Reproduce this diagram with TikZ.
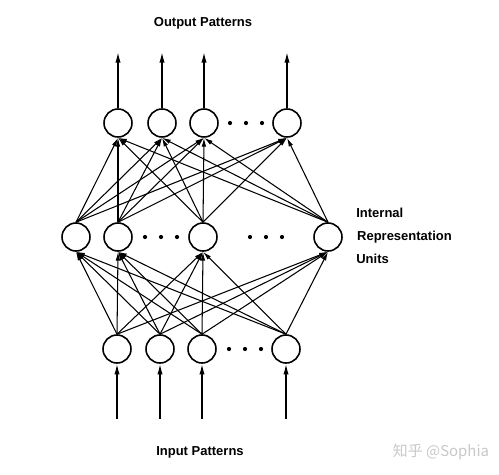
\documentclass[tikz,border=0pt]{standalone}
\usepackage{fontspec}
\setmainfont{Liberation Sans}
\newfontfamily\cjk{Noto Sans CJK SC}
\usepackage{tikz}
\usetikzlibrary{arrows.meta,positioning}
\definecolor{markgray}{RGB}{200,200,200}
\tikzset{
  unit/.style={circle, draw, line width=0.9pt, minimum size=0.56cm, inner sep=0pt},
  lbl/.style={font=\bfseries\fontsize{7.4}{9}\selectfont, inner sep=0pt},
  wire/.style={-{Latex[length=5pt,width=2.6pt]}, line width=0.6pt},
  iowire/.style={-{Latex[length=6pt,width=3pt]}, line width=0.8pt},
}
\newcommand{\threedots}[2]{%
  \foreach \dx in {0,16,32} \fill (#1+\dx,#2) circle (1.2pt);}

\begin{document}
\begin{tikzpicture}[x=0.02cm, y=-0.02cm]
    \useasboundingbox (0,0) rectangle (499,474);
    % output units
    \node[unit] (o1) at (118,123) {};
    \node[unit] (o2) at (162,123) {};
    \node[unit] (o3) at (204,123) {};
    \node[unit] (o4) at (287,123) {};
    \threedots{230}{123}
    % internal units
    \node[unit] (h1) at (76,237) {};
    \node[unit] (h2) at (118,237) {};
    \node[unit] (h3) at (203,237) {};
    \node[unit] (h4) at (328,237) {};
    \threedots{145}{237}
    \threedots{250}{237}
    % input units
    \node[unit] (i1) at (117,349) {};
    \node[unit] (i2) at (160,349) {};
    \node[unit] (i3) at (202,349) {};
    \node[unit] (i4) at (286,349) {};
    \threedots{229}{349}
    % connections
    \foreach \a in {i1,i2,i3,i4}
      \foreach \b in {h1,h2,h3,h4}
        \draw[wire] (\a.north) -- (\b.south);
    \foreach \a in {h1,h2,h3,h4}
      \foreach \b in {o1,o2,o3,o4}
        \draw[wire] (\a.north) -- (\b.south);
    % outputs and inputs
    \foreach \n/\x in {o1/118,o2/162,o3/204,o4/287} {
      \coordinate (\n top) at (\x,52);
      \draw[iowire] (\n.north) -- (\n top);
    }
    \foreach \n/\x in {i1/117,i2/160,i3/202,i4/286} {
      \coordinate (\n bot) at (\x,419);
      \draw[iowire] (\n bot) -- (\n.south);
    }
    % labels
    \node[lbl] (outlbl) at (203,23) {Output Patterns};
    \node[lbl] (inlbl) at (200,452) {Input Patterns};
    \node[lbl, right=0.28cm of h4] (replbl) {Representation};
    \node[lbl, anchor=west] (intlbl) at (356,213) {Internal};
    \node[lbl, anchor=west] (unitlbl) at (356,259) {Units};
    \node[font=\cjk\fontsize{8.5}{10}\selectfont, text=markgray] (mark) at (441,452) {知乎 @Sophia};
\end{tikzpicture}
\end{document}
